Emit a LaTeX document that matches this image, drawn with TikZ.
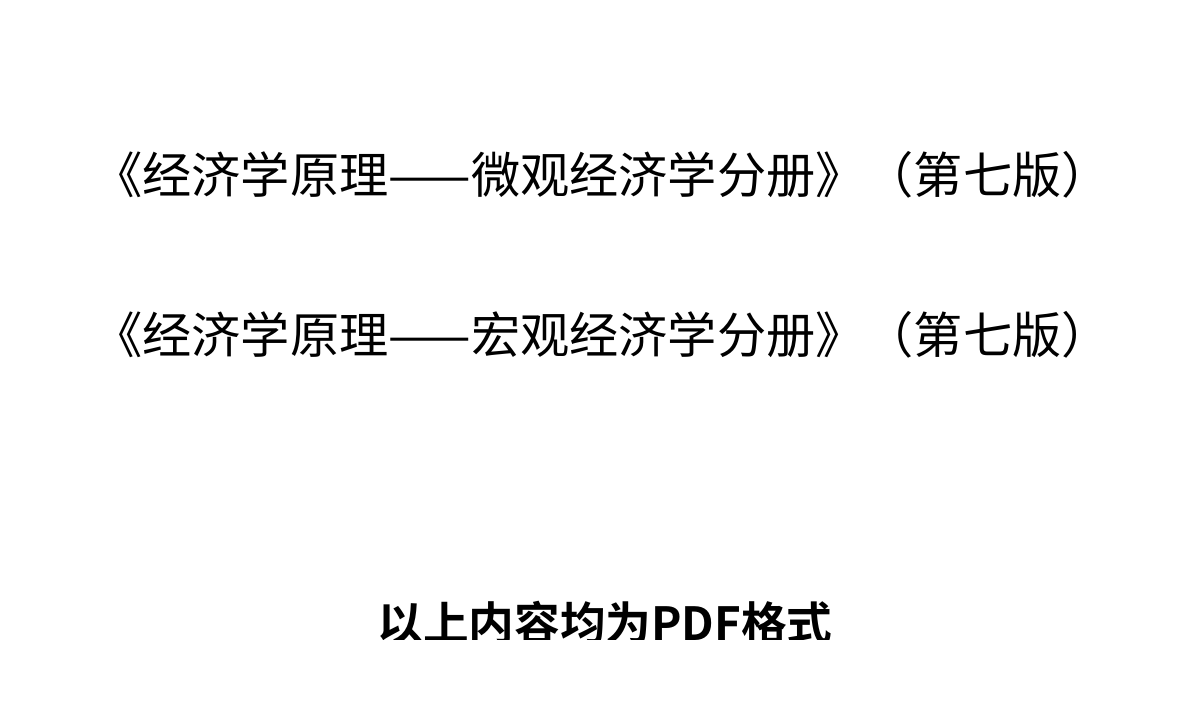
\documentclass[tikz,border=0pt]{standalone}
\usepackage{fontspec}
\newfontfamily\cjk{Noto Sans CJK SC}
\newfontfamily\cjkheavy{Noto Sans CJK SC Bold}
\begin{document}
\begin{tikzpicture}
    \useasboundingbox (0,0) rectangle (12,7.08);
    \clip (0,0.68) rectangle (12,7.08);
    \node (micro) at (6.02,5.33) {\cjk\fontsize{14pt}{16pt}\selectfont 《经济学原理——微观经济学分册》（第七版）};
    \node (macro) at (6.02,3.73) {\cjk\fontsize{14pt}{16pt}\selectfont 《经济学原理——宏观经济学分册》（第七版）};

    \node (note) at (6.05,0.85) {\cjkheavy\fontsize{13pt}{16pt}\selectfont 以上内容均为PDF格式};
\end{tikzpicture}
\end{document}
